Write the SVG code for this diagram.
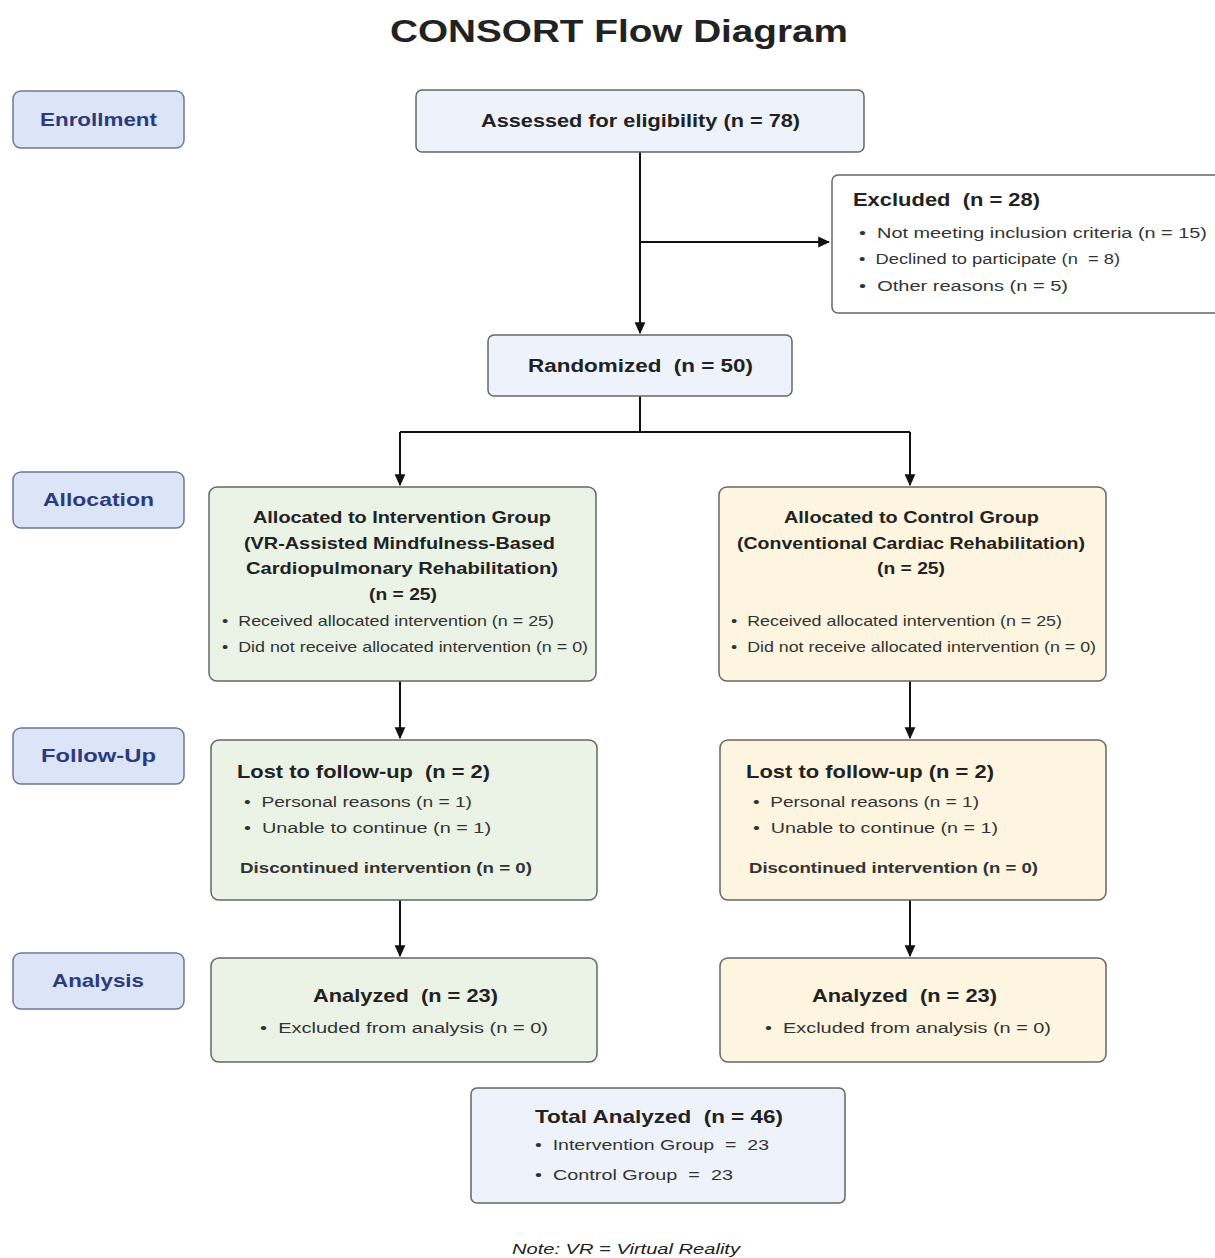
<svg xmlns="http://www.w3.org/2000/svg" width="1215" height="1258" viewBox="0 0 1215 1258">
<defs>
<marker id="ah" viewBox="0 0 10 10" refX="9" refY="5" markerWidth="12" markerHeight="12" orient="auto" markerUnits="userSpaceOnUse">
<path d="M0,0.5 L10,5 L0,9.5 z" fill="#111"/>
</marker>
<style>
text{font-family:"Liberation Sans",Arial,sans-serif;fill:#222;white-space:pre}
.stage rect{fill:#dce5f7;stroke:#6d7896;stroke-width:1.5}
.stage text{fill:#2c3a7e;font-weight:bold;font-size:19px}
.box{stroke:#666;stroke-width:1.5}
.blue{fill:#eef2fa}
.white{fill:#ffffff}
.green{fill:#eaf3e6}
.yellow{fill:#fdf5df}
.b{font-weight:bold}
.h{font-size:19px;font-weight:bold}
.s{font-size:15.5px;fill:#333}
.xs{font-size:14.5px;fill:#333}
.ab{font-size:16.5px;font-weight:bold}
.conn path{fill:none;stroke:#111;stroke-width:2}
</style>
</defs>
<rect width="1215" height="1258" fill="#fff"/>
<text x="390" y="42" class="b" font-size="32" fill="#222" textLength="458" lengthAdjust="spacingAndGlyphs">CONSORT Flow Diagram</text>

<g id="enrollment" class="stage"><rect x="13" y="91" width="171" height="57" rx="8"/><text x="40" y="126" textLength="117" lengthAdjust="spacingAndGlyphs">Enrollment</text></g>
<g id="allocation" class="stage"><rect x="13" y="472" width="171" height="56" rx="8"/><text x="43" y="506" textLength="111" lengthAdjust="spacingAndGlyphs">Allocation</text></g>
<g id="followup" class="stage"><rect x="13" y="728" width="171" height="56" rx="8"/><text x="41" y="762" textLength="115" lengthAdjust="spacingAndGlyphs">Follow-Up</text></g>
<g id="analysis" class="stage"><rect x="13" y="953" width="171" height="56" rx="8"/><text x="52" y="987" textLength="92" lengthAdjust="spacingAndGlyphs">Analysis</text></g>

<g class="conn" id="connectors">
<path d="M640,152 V333" marker-end="url(#ah)"/>
<path d="M640,242 H829" marker-end="url(#ah)"/>
<path d="M640,396 V432"/>
<path d="M400,432 H910"/>
<path d="M400,432 V485" marker-end="url(#ah)"/>
<path d="M910,432 V485" marker-end="url(#ah)"/>
<path d="M400,681 V738" marker-end="url(#ah)"/>
<path d="M910,681 V738" marker-end="url(#ah)"/>
<path d="M400,900 V956" marker-end="url(#ah)"/>
<path d="M910,900 V956" marker-end="url(#ah)"/>
</g>

<g id="assessed"><rect class="box blue" x="416" y="90" width="448" height="62" rx="6"/><text x="481" y="127" class="b" font-size="18" textLength="319" lengthAdjust="spacingAndGlyphs">Assessed for eligibility (n = 78)</text></g>

<g id="excluded"><rect class="box white" x="832" y="175" width="390" height="138" rx="6"/>
<text x="853" y="206" class="h" textLength="187" lengthAdjust="spacingAndGlyphs">Excluded  (n = 28)</text>
<text x="859" y="238" class="s" textLength="348" lengthAdjust="spacingAndGlyphs">•  Not meeting inclusion criteria (n = 15)</text>
<text x="859" y="264" class="s" textLength="261" lengthAdjust="spacingAndGlyphs">•  Declined to participate (n  = 8)</text>
<text x="859" y="291" class="s" textLength="209" lengthAdjust="spacingAndGlyphs">•  Other reasons (n = 5)</text>
</g>

<g id="randomized"><rect class="box blue" x="488" y="335" width="304" height="61" rx="6"/><text x="528" y="372" class="b" font-size="18" textLength="225" lengthAdjust="spacingAndGlyphs">Randomized  (n = 50)</text></g>

<g id="alloc-int"><rect class="box green" x="209" y="487" width="387" height="194" rx="8"/>
<text x="253" y="523" class="ab" textLength="298" lengthAdjust="spacingAndGlyphs">Allocated to Intervention Group</text>
<text x="244" y="549" class="ab" textLength="311" lengthAdjust="spacingAndGlyphs">(VR-Assisted Mindfulness-Based</text>
<text x="246" y="574" class="ab" textLength="312" lengthAdjust="spacingAndGlyphs">Cardiopulmonary Rehabilitation)</text>
<text x="369" y="600" class="ab" textLength="68" lengthAdjust="spacingAndGlyphs">(n = 25)</text>
<text x="222" y="626" class="xs" textLength="332" lengthAdjust="spacingAndGlyphs">•  Received allocated intervention (n = 25)</text>
<text x="222" y="652" class="xs" textLength="366" lengthAdjust="spacingAndGlyphs">•  Did not receive allocated intervention (n = 0)</text>
</g>

<g id="alloc-ctl"><rect class="box yellow" x="719" y="487" width="387" height="194" rx="8"/>
<text x="784" y="523" class="ab" textLength="255" lengthAdjust="spacingAndGlyphs">Allocated to Control Group</text>
<text x="737" y="549" class="ab" textLength="348" lengthAdjust="spacingAndGlyphs">(Conventional Cardiac Rehabilitation)</text>
<text x="877" y="574" class="ab" textLength="68" lengthAdjust="spacingAndGlyphs">(n = 25)</text>
<text x="731" y="626" class="xs" textLength="331" lengthAdjust="spacingAndGlyphs">•  Received allocated intervention (n = 25)</text>
<text x="731" y="652" class="xs" textLength="365" lengthAdjust="spacingAndGlyphs">•  Did not receive allocated intervention (n = 0)</text>
</g>

<g id="fu-int"><rect class="box green" x="211" y="740" width="386" height="160" rx="8"/>
<text x="237" y="778" class="h" textLength="253" lengthAdjust="spacingAndGlyphs">Lost to follow-up  (n = 2)</text>
<text x="244" y="807" class="s" textLength="228" lengthAdjust="spacingAndGlyphs">•  Personal reasons (n = 1)</text>
<text x="244" y="833" class="s" textLength="247" lengthAdjust="spacingAndGlyphs">•  Unable to continue (n = 1)</text>
<text x="240" y="873" class="s b" textLength="292" lengthAdjust="spacingAndGlyphs">Discontinued intervention (n = 0)</text>
</g>

<g id="fu-ctl"><rect class="box yellow" x="720" y="740" width="386" height="160" rx="8"/>
<text x="746" y="778" class="h" textLength="248" lengthAdjust="spacingAndGlyphs">Lost to follow-up (n = 2)</text>
<text x="753" y="807" class="s" textLength="226" lengthAdjust="spacingAndGlyphs">•  Personal reasons (n = 1)</text>
<text x="753" y="833" class="s" textLength="245" lengthAdjust="spacingAndGlyphs">•  Unable to continue (n = 1)</text>
<text x="749" y="873" class="s b" textLength="289" lengthAdjust="spacingAndGlyphs">Discontinued intervention (n = 0)</text>
</g>

<g id="an-int"><rect class="box green" x="211" y="958" width="386" height="104" rx="8"/>
<text x="313" y="1002" class="h" textLength="185" lengthAdjust="spacingAndGlyphs">Analyzed  (n = 23)</text>
<text x="260" y="1033" class="s" textLength="288" lengthAdjust="spacingAndGlyphs">•  Excluded from analysis (n = 0)</text>
</g>

<g id="an-ctl"><rect class="box yellow" x="720" y="958" width="386" height="104" rx="8"/>
<text x="812" y="1002" class="h" textLength="185" lengthAdjust="spacingAndGlyphs">Analyzed  (n = 23)</text>
<text x="765" y="1033" class="s" textLength="286" lengthAdjust="spacingAndGlyphs">•  Excluded from analysis (n = 0)</text>
</g>

<g id="total"><rect class="box blue" x="471" y="1088" width="374" height="115" rx="6"/>
<text x="535" y="1123" class="h" textLength="248" lengthAdjust="spacingAndGlyphs">Total Analyzed  (n = 46)</text>
<text x="535" y="1150" class="s" textLength="234" lengthAdjust="spacingAndGlyphs">•  Intervention Group  =  23</text>
<text x="535" y="1180" class="s" textLength="198" lengthAdjust="spacingAndGlyphs">•  Control Group  =  23</text>
</g>

<text x="512" y="1254" font-size="14" font-style="italic" fill="#333" textLength="228" lengthAdjust="spacingAndGlyphs">Note: VR = Virtual Reality</text>
</svg>
